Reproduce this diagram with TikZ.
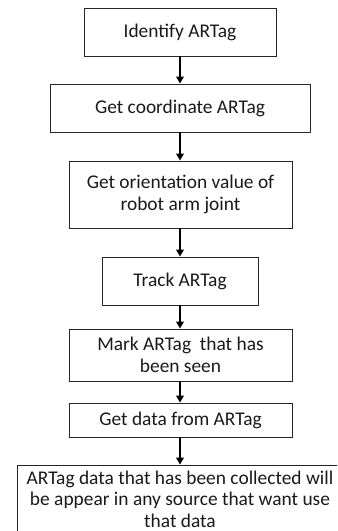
\documentclass[tikz,border=0pt]{standalone}
\usepackage{fontspec}
\setmainfont{Carlito}
\usetikzlibrary{arrows.meta}
\begin{document}
\begin{tikzpicture}[x=1bp,y=-1bp,
  box/.style={draw=black!85,line width=0.8bp,align=center,inner sep=0pt,
    font=\fontsize{19.4bp}{22.5bp}\selectfont,text=black!90},
  arr/.style={line width=1.8bp,-{Triangle[width=7.5bp,length=7bp]},shorten >=0pt}]
\useasboundingbox (0,0) rectangle (337,531);
\clip (0,0) rectangle (337,531);
\node[box,minimum width=192bp,minimum height=48bp] (b1) at (180,32) {Identify ARTag};
\node[box,minimum width=260bp,minimum height=48bp] (b2) at (180,108) {Get coordinate ARTag};
\node[box,minimum width=223bp,minimum height=67bp] (b3) at (180.5,194.5) {Get orientation value of\\robot arm joint};
\node[box,minimum width=156bp,minimum height=48bp] (b4) at (180,281) {Track ARTag};
\node[box,minimum width=223bp,minimum height=52bp] (b5) at (180.5,355) {Mark ARTag\ \ that has\\been seen};
\node[box,minimum width=223bp,minimum height=34bp] (b6) at (180.5,420) {Get data from ARTag};
\node[box,font=\fontsize{19.4bp}{21.5bp}\selectfont,minimum width=326bp,minimum height=68bp] (b7) at (180,499) {ARTag data that has been collected will\\be appear in any source that want use\\that data};
\draw[arr] (b1.south -| 180,0) -- (b2.north -| 180,0);
\draw[arr] (b2.south -| 180,0) -- (b3.north -| 180,0);
\draw[arr] (b3.south -| 180,0) -- (b4.north -| 180,0);
\draw[arr] (b4.south -| 180,0) -- (b5.north -| 180,0);
\draw[arr] (b5.south -| 180,0) -- (b6.north -| 180,0);
\draw[arr] (b6.south -| 180,0) -- (b7.north -| 180,0);
\end{tikzpicture}
\end{document}
